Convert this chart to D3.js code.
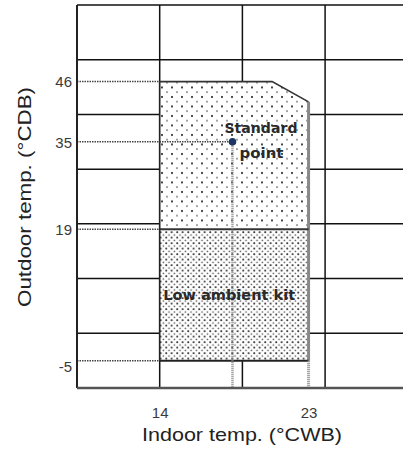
<!DOCTYPE html>
<html><head><meta charset="utf-8">
<script src="https://cdn.jsdelivr.net/npm/d3@7"></script>
<style>html,body{margin:0;padding:0;background:#fff;}svg{display:block;}</style>
</head><body>
<script>
// ---- data ----
const xGridValues = [9, 14, 19, 24, 29];
const yGridValues = [-10, 0, 10, 20, 30, 40, 50, 60];
const xTickValues = [14, 23];
const yTickValues = [46, 35, 19, -5];
const upperRegion = [[14, 19], [14, 46], [20.8, 46], [23, 42.3], [23, 19]];
const lowerRegion = [[14, -5], [14, 19], [23, 19], [23, -5]];
const standardPoint = [18.4, 35];
const standardLabel = ["Standard", "point"];
const lowAmbientLabel = "Low ambient kit";
const lowAmbientPos = [18.2, 6];
const xTitle = "Indoor temp. (°CWB)";
const yTitle = "Outdoor temp. (°CDB)";

const W = 403, H = 450;
const x = d3.scaleLinear().domain([9, 29]).range([77, 407.8]);
const y = d3.scaleLinear().domain([-10, 60]).range([388, 5]);

const svg = d3.select("body").append("svg").attr("width", W).attr("height", H);
const defs = svg.append("defs");

// sparse dot pattern
const p1 = defs.append("pattern").attr("id", "sparse").attr("patternUnits", "userSpaceOnUse")
  .attr("width", 10).attr("height", 9.5);
p1.append("rect").attr("width", 10).attr("height", 9.5).attr("fill", "#fff");
p1.append("circle").attr("cx", 2).attr("cy", 2).attr("r", 1).attr("fill", "#111");
p1.append("circle").attr("cx", 7).attr("cy", 6.7).attr("r", 0.9).attr("fill", "#777");

// dense dot pattern
const p2 = defs.append("pattern").attr("id", "dense").attr("patternUnits", "userSpaceOnUse")
  .attr("width", 5.5).attr("height", 5.5);
p2.append("rect").attr("width", 5.5).attr("height", 5.5).attr("fill", "#fff");
p2.append("circle").attr("cx", 1.2).attr("cy", 1.2).attr("r", 0.95).attr("fill", "#111");
p2.append("circle").attr("cx", 4).attr("cy", 4).attr("r", 0.85).attr("fill", "#555");

// grid
const grid = svg.append("g");
grid.selectAll("line.v").data(xGridValues).join("line")
  .attr("x1", d => x(d)).attr("x2", d => x(d)).attr("y1", y(60)).attr("y2", y(-10))
  .attr("stroke", "#111").attr("stroke-width", 1.5);
grid.selectAll("line.h").data(yGridValues).join("line")
  .attr("x1", x(9)).attr("x2", W).attr("y1", d => y(d)).attr("y2", d => y(d))
  .attr("stroke", "#111").attr("stroke-width", 1.5);

const line = d3.line().x(d => x(d[0])).y(d => y(d[1]));

// regions
svg.append("path").attr("d", line(upperRegion) + "Z").attr("fill", "url(#sparse)");
svg.append("path").attr("d", line(lowerRegion) + "Z").attr("fill", "url(#dense)");

// region edges
svg.append("path").attr("d", line([upperRegion[1], upperRegion[2], upperRegion[3]]))
  .attr("fill", "none").attr("stroke", "#333").attr("stroke-width", 1.6);
svg.append("path").attr("d", line([upperRegion[3], lowerRegion[3]]))
  .attr("fill", "none").attr("stroke", "#888").attr("stroke-width", 3);
svg.append("path").attr("d", line([lowerRegion[1], lowerRegion[2]]))
  .attr("fill", "none").attr("stroke", "#333").attr("stroke-width", 2);
svg.append("path").attr("d", line([lowerRegion[0], lowerRegion[3]]))
  .attr("fill", "none").attr("stroke", "#222").attr("stroke-width", 2);
svg.append("path").attr("d", line([lowerRegion[0], upperRegion[1]]))
  .attr("fill", "none").attr("stroke", "#222").attr("stroke-width", 1.6);

// dotted leader lines
const leaders = svg.append("g").attr("fill", "none");
[46, 19, -5].forEach(v => {
  leaders.append("path").attr("d", line([[9, v], [14, v]]))
    .attr("stroke", "#444").attr("stroke-width", 1.5).attr("stroke-dasharray", "1.5,1");
});
leaders.append("path").attr("d", line([[9, standardPoint[1]], standardPoint]))
  .attr("stroke", "#444").attr("stroke-width", 1.5).attr("stroke-dasharray", "1.5,1");
leaders.append("path").attr("d", line([standardPoint, [standardPoint[0], -10]]))
  .attr("stroke", "#888").attr("stroke-width", 2.5).attr("stroke-dasharray", "1,1");
leaders.append("path").attr("d", line([[23, -5], [23, -10]]))
  .attr("stroke", "#888").attr("stroke-width", 3).attr("stroke-dasharray", "1,1");

// frame lines
svg.append("line").attr("x1", x(9)).attr("x2", x(9)).attr("y1", y(60)).attr("y2", y(-10))
  .attr("stroke", "#222").attr("stroke-width", 2);
svg.append("line").attr("x1", x(9)).attr("x2", W).attr("y1", y(-10)).attr("y2", y(-10))
  .attr("stroke", "#555").attr("stroke-width", 2.5);

// standard point
svg.append("circle").attr("cx", x(standardPoint[0])).attr("cy", y(standardPoint[1]))
  .attr("r", 3.8).attr("fill", "#1b3565");

const labelFont = "'DejaVu Sans', sans-serif";
svg.append("text").attr("x", x(standardPoint[0]) - 8).attr("y", y(standardPoint[1]) - 9)
  .attr("font-family", labelFont).attr("font-size", 14).attr("font-weight", "bold")
  .attr("fill", "#2a2a2a").attr("textLength", 73).attr("lengthAdjust", "spacingAndGlyphs")
  .text(standardLabel[0]);
svg.append("text").attr("x", x(standardPoint[0]) + 7).attr("y", y(standardPoint[1]) + 16)
  .attr("font-family", labelFont).attr("font-size", 14).attr("font-weight", "bold")
  .attr("fill", "#2a2a2a").attr("textLength", 44).attr("lengthAdjust", "spacingAndGlyphs")
  .text(standardLabel[1]);
svg.append("text").attr("x", x(lowAmbientPos[0])).attr("y", y(lowAmbientPos[1]))
  .attr("text-anchor", "middle")
  .attr("font-family", labelFont).attr("font-size", 14).attr("font-weight", "bold")
  .attr("fill", "#2a2a2a").attr("textLength", 132).attr("lengthAdjust", "spacingAndGlyphs")
  .text(lowAmbientLabel);

// axes (labels only)
const tickFont = "'Liberation Sans', Arial, sans-serif";
const yAxis = svg.append("g").attr("transform", `translate(${x(9) - 5},0)`)
  .call(d3.axisLeft(y).tickValues(yTickValues).tickSize(0).tickPadding(0).tickFormat(d => String(d)));
yAxis.select(".domain").remove();
yAxis.attr("font-size", null).attr("font-family", null);
yAxis.selectAll("text").attr("font-family", tickFont)
  .attr("font-size", 15).attr("fill", "#3a3a3a").attr("dy", d => d === -5 ? "0.75em" : "0.35em");

const xAxis = svg.append("g").attr("transform", `translate(0,${y(-10) + 19})`)
  .call(d3.axisBottom(x).tickValues(xTickValues).tickSize(0).tickPadding(0).tickFormat(d => String(d)));
xAxis.select(".domain").remove();
xAxis.attr("font-size", null).attr("font-family", null);
xAxis.selectAll("text").attr("font-family", tickFont)
  .attr("font-size", 15).attr("fill", "#3a3a3a");

svg.append("text").attr("x", 242).attr("y", 441).attr("text-anchor", "middle")
  .attr("font-family", tickFont).attr("font-size", 19)
  .attr("textLength", 200).attr("lengthAdjust", "spacingAndGlyphs")
  .attr("fill", "#222").text(xTitle);
svg.append("text").attr("transform", "translate(31,197) rotate(-90)").attr("text-anchor", "middle")
  .attr("font-family", tickFont).attr("font-size", 19)
  .attr("textLength", 220).attr("lengthAdjust", "spacingAndGlyphs")
  .attr("fill", "#222").text(yTitle);
</script>
</body></html>
